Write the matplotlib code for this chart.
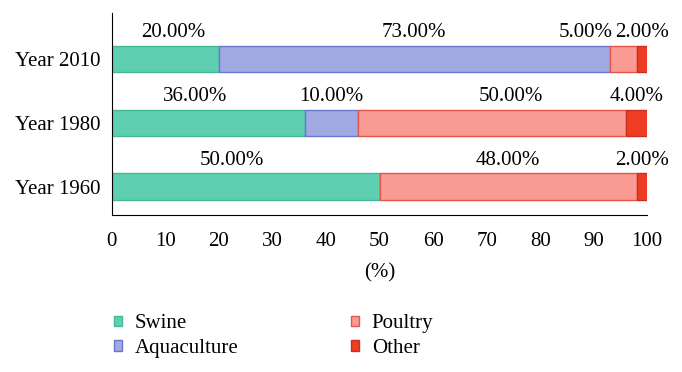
import matplotlib.pyplot as plt
from matplotlib.patches import Patch
import numpy as np

years = ['Year 1960', 'Year 1980', 'Year 2010']
categories = ['Swine', 'Aquaculture', 'Poultry', 'Other']
swine = [50, 36, 20]
aquaculture = [0, 10, 73]
poultry = [48, 50, 5]
other = [2, 4, 2]

colors = ['#5ecfb1', '#a1a9e2', '#f99b94', '#ee3d24']
edges = ['#45b89a', '#6677d0', '#e4584c', '#c8301c']

plt.rcParams['font.family'] = ['Liberation Serif', 'DejaVu Serif']

fig = plt.figure(figsize=(6.82, 3.72), dpi=100)
ax = fig.add_axes([0.164, 0.422, 0.785, 0.543])

series = [swine, aquaculture, poultry, other]
y = np.arange(len(years))
left = np.zeros(len(years))
# small nudges so crowded labels don't collide (in data units)
nudge = {(2, 2): -7.0, (2, 0): 1.5, (1, 0): -2.5, (0, 0): -2.5, (1, 2): 3.5}
for k, vals in enumerate(series):
    vals = np.array(vals, dtype=float)
    ax.barh(y, vals, left=left, height=0.42, color=colors[k],
            edgecolor=edges[k], linewidth=1.0)
    for i, v in enumerate(vals):
        if v > 0:
            cx = left[i] + v / 2 + nudge.get((i, k), 0)
            cx = min(cx, 99.4)
            ax.text(cx, y[i] + 0.26, '%.2f%%' % v, ha='center', va='bottom',
                    fontsize=15)
    left += vals

ax.set_xlim(0, 100)
ax.set_ylim(-0.44, 2.72)
ax.set_yticks(y)
ax.set_yticklabels(years, fontsize=15)
ax.set_xticks(range(0, 101, 10))
ax.tick_params(axis='x', labelsize=15, length=0, pad=12)
ax.tick_params(axis='y', length=0, pad=8.5)
ax.set_xlabel('(%)', fontsize=15, labelpad=9)
ax.spines['top'].set_visible(False)
ax.spines['right'].set_visible(False)

handles = [Patch(facecolor=colors[k], edgecolor=edges[k], label=categories[k])
           for k in range(4)]
lkw = dict(loc='upper left', frameon=False, fontsize=15,
           handlelength=0.4, handleheight=0.4, handletextpad=0.6,
           labelspacing=0.25)
fig.legend(handles=handles[:2], bbox_to_anchor=(0.139, 0.205), **lkw)
fig.legend(handles=handles[2:], bbox_to_anchor=(0.487, 0.205), **lkw)

plt.savefig('out.png')
